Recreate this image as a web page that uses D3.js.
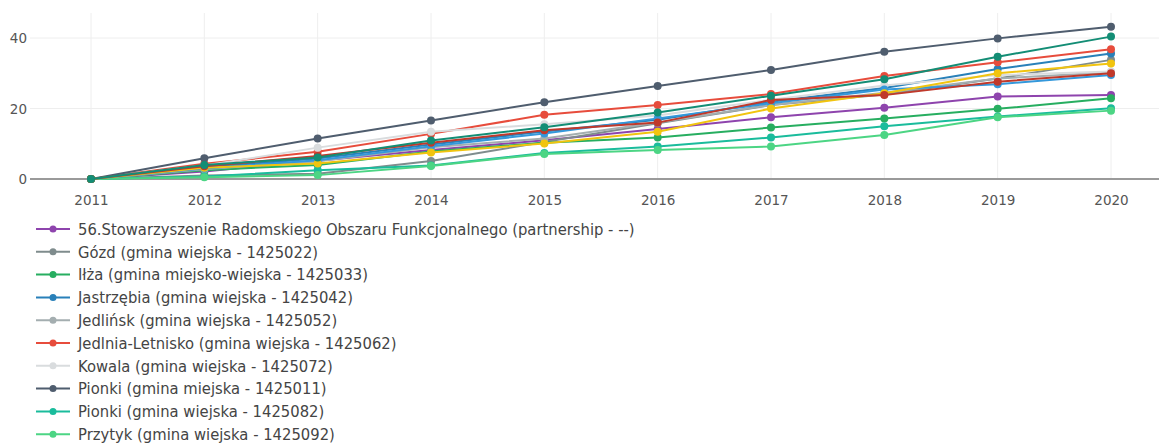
<!DOCTYPE html>
<html><head><meta charset="utf-8">
<script src="https://cdn.jsdelivr.net/npm/d3@7"></script>
<style>body{margin:0;background:#fff;overflow:hidden}svg{display:block}</style>
</head><body><svg id="c" width="1159" height="445"></svg>
<script>
const years = [2011,2012,2013,2014,2015,2016,2017,2018,2019,2020];
const yTicks = [0,20,40];
const names = [
 "56.Stowarzyszenie Radomskiego Obszaru Funkcjonalnego (partnership - --)",
 "Gózd (gmina wiejska - 1425022)",
 "Iłża (gmina miejsko-wiejska - 1425033)",
 "Jastrzębia (gmina wiejska - 1425042)",
 "Jedlińsk (gmina wiejska - 1425052)",
 "Jedlnia-Letnisko (gmina wiejska - 1425062)",
 "Kowala (gmina wiejska - 1425072)",
 "Pionki (gmina miejska - 1425011)",
 "Pionki (gmina wiejska - 1425082)",
 "Przytyk (gmina wiejska - 1425092)",
 "Skaryszew (gmina miejsko-wiejska - 1425113)",
 "Wierzbica (gmina wiejska - 1425122)",
 "Wolanów (gmina wiejska - 1425132)",
 "Zakrzew (gmina wiejska - 1425142)"
];
const colors = ["#8e44ad","#7f8c8d","#27ae60","#2980b9","#a4aeb0","#e74c3c","#d9dcde","#4f5d6e","#1abc9c","#4cd584","#3498db","#f1c40f","#c0392b","#138d75"];
const v0 = [0, 2.1, 5.2, 8.2, 11.0, 14.2, 17.5, 20.2, 23.4, 23.8];
const v1 = [0, 1.0, 1.5, 5.1, 10.5, 15.8, 21.0, 24.0, 28.5, 33.8];
const v2 = [0, 2.5, 4.0, 7.8, 10.3, 11.8, 14.6, 17.2, 19.9, 22.9];
const v3 = [0, 3.3, 5.8, 9.8, 13.5, 16.8, 21.9, 25.8, 31.2, 35.6];
const v4 = [0, 2.8, 5.0, 9.0, 11.5, 16.0, 21.0, 24.5, 28.5, 30.3];
const v5 = [0, 4.3, 7.7, 12.8, 18.2, 21.0, 24.1, 29.2, 33.1, 36.8];
const v6 = [0, 3.8, 8.9, 13.4, 15.5, 18.0, 22.5, 26.5, 29.5, 30.5];
const v7 = [0, 5.9, 11.5, 16.6, 21.8, 26.4, 30.9, 36.1, 39.9, 43.2];
const v8 = [0, 0.7, 2.5, 3.8, 7.4, 9.2, 11.8, 15.0, 17.7, 20.1];
const v9 = [0, 0.5, 1.1, 3.7, 7.1, 8.2, 9.2, 12.5, 17.5, 19.4];
const v10 = [0, 3.0, 5.3, 9.3, 12.9, 17.2, 21.5, 25.4, 26.9, 29.5];
const v11 = [0, 3.2, 4.4, 7.5, 10.1, 13.4, 20.0, 24.3, 30.0, 32.8];
const v12 = [0, 3.6, 6.5, 10.3, 13.8, 16.0, 22.4, 23.8, 27.6, 30.0];
const v13 = [0, 4.0, 6.1, 10.9, 14.7, 18.9, 23.6, 28.3, 34.7, 40.4];
const values = [v0,v1,v2,v3,v4,v5,v6,v7,v8,v9,v10,v11,v12,v13];

const svg = d3.select("#c");
const FONT = "'DejaVu Sans', Verdana, sans-serif";
const plotL = 30, plotR = 1159, plotT = 13, plotB = 179;
const x = d3.scaleLinear().domain([2011,2020]).range([91,1111]);
const y = d3.scaleLinear().domain([0,47.1]).range([plotB, plotT]);

// grid
const g = svg.append("g");
g.selectAll(".vg").data(years).enter().append("line")
 .attr("x1", d=>x(d)).attr("x2", d=>x(d)).attr("y1", plotT).attr("y2", plotB)
 .attr("stroke","#eeeeee").attr("stroke-width",1);
g.selectAll(".hg").data(yTicks.filter(d=>d>0)).enter().append("line")
 .attr("x1", plotL).attr("x2", plotR).attr("y1", d=>y(d)).attr("y2", d=>y(d))
 .attr("stroke","#eeeeee").attr("stroke-width",1);
g.append("line").attr("x1",plotL).attr("x2",plotR).attr("y1",y(0)).attr("y2",y(0))
 .attr("stroke","#9a9a9a").attr("stroke-width",2);

// axes
const yAxis = d3.axisLeft(y).tickValues(yTicks).tickSize(0).tickPadding(0);
const ya = svg.append("g").attr("transform","translate(27,0)").call(yAxis);
ya.select(".domain").remove();
ya.selectAll("text").attr("font-family",FONT).attr("font-size",13.5).attr("fill","#555").attr("dy","0.35em").attr("x",0);
const xAxis = d3.axisBottom(x).tickValues(years).tickFormat(d3.format("d")).tickSize(0).tickPadding(0);
const xa = svg.append("g").attr("transform","translate(0,196)").call(xAxis);
xa.select(".domain").remove();
xa.selectAll("text").attr("font-family",FONT).attr("font-size",13.5).attr("fill","#555").attr("dy","0.7em").attr("y",0);

// series
const line = d3.line().x((d,i)=>x(years[i])).y(d=>y(d));
values.forEach((vals,k)=>{
  const s = svg.append("g");
  s.append("path").datum(vals).attr("d",line).attr("fill","none")
   .attr("stroke",colors[k]).attr("stroke-width",2).attr("stroke-linejoin","round");
  s.selectAll("circle").data(vals).enter().append("circle")
   .attr("cx",(d,i)=>x(years[i])).attr("cy",d=>y(d)).attr("r",4).attr("fill",colors[k]);
});

// legend (only the entries that fit in the visible area)
const lg = svg.append("g");
names.forEach((n,k)=>{
  const yy = 229 + k*22.8;
  if (yy + 8 > 445) return;
  const it = lg.append("g").attr("transform",`translate(0,${yy})`);
  it.append("line").attr("x1",36).attr("x2",70).attr("y1",0).attr("y2",0).attr("stroke",colors[k]).attr("stroke-width",2);
  it.append("circle").attr("cx",53).attr("cy",0).attr("r",3.5).attr("fill",colors[k]);
  it.append("text").attr("transform","translate(78,0) scale(0.925,1)").attr("dy","0.36em").attr("font-family",FONT)
   .attr("font-size",16).attr("fill","#444").text(n);
});
</script></body></html>
